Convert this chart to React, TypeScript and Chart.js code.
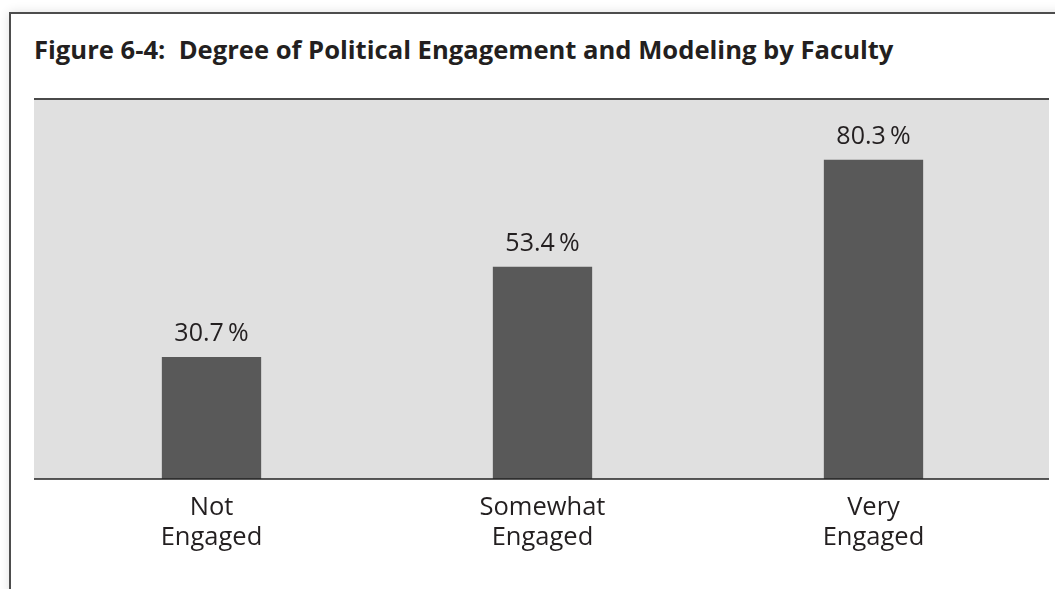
import React, { useEffect, useRef } from "react";
import { Chart, registerables } from "chart.js";

Chart.register(...registerables);

const categories: string[][] = [["Not", "Engaged"], ["Somewhat", "Engaged"], ["Very", "Engaged"]];
const shares: number[] = [30.7, 53.4, 80.3];
const yMax = 95.6;

const W = 1055;
const H = 589;
const FONT = "'Open Sans', 'Noto Sans', sans-serif";

// Grey panel behind the bars, with its rule on top and the baseline at the bottom
const panelPlugin = {
  id: "panel",
  beforeDraw(chart: any) {
    const { ctx, chartArea } = chart;
    const left = chartArea.left - 12;
    const right = chartArea.right + 10;
    ctx.save();
    ctx.fillStyle = "#e0e0e0";
    ctx.fillRect(left, chartArea.top, right - left, chartArea.bottom - chartArea.top);
    ctx.strokeStyle = "#4a4a4a";
    ctx.lineWidth = 2;
    ctx.beginPath();
    ctx.moveTo(left, chartArea.top);
    ctx.lineTo(right, chartArea.top);
    ctx.stroke();
    ctx.restore();
  },
  afterDatasetsDraw(chart: any) {
    const { ctx, chartArea } = chart;
    const left = chartArea.left - 12;
    const right = chartArea.right + 10;
    ctx.save();
    ctx.strokeStyle = "#222";
    ctx.lineWidth = 1.5;
    ctx.beginPath();
    ctx.moveTo(left, chartArea.bottom);
    ctx.lineTo(right, chartArea.bottom);
    ctx.stroke();
    ctx.restore();
  },
};

// Percentage printed above each bar
const valueLabelPlugin = {
  id: "valueLabels",
  afterDatasetsDraw(chart: any) {
    const { ctx } = chart;
    const meta = chart.getDatasetMeta(0);
    const values = chart.data.datasets[0].data as number[];
    ctx.save();
    ctx.font = `25px ${FONT}`;
    ctx.fillStyle = "#231f20";
    ctx.textAlign = "center";
    ctx.textBaseline = "alphabetic";
    meta.data.forEach((bar: any, i: number) => {
      ctx.fillText(`${values[i].toFixed(1)}\u2009%`, bar.x, bar.y - 16);
    });
    ctx.restore();
  },
};

export default function App() {
  const canvasRef = useRef<HTMLCanvasElement | null>(null);

  useEffect(() => {
    document.body.style.margin = "0";
    const canvas = canvasRef.current;
    if (!canvas) return;
    const chart = new Chart(canvas, {
      type: "bar",
      data: {
        labels: categories,
        datasets: [
          {
            data: shares,
            backgroundColor: "#595959",
            borderWidth: 0,
            barPercentage: 0.3,
            categoryPercentage: 1,
          },
        ],
      },
      options: {
        animation: false,
        responsive: false,
        maintainAspectRatio: false,
        layout: { padding: { left: 46, right: 16, top: 99, bottom: 0 } },
        plugins: {
          legend: { display: false },
          tooltip: { enabled: false },
          title: { display: false },
        },
        scales: {
          x: {
            type: "category",
            grid: { display: false, drawTicks: false },
            border: { display: false },
            afterFit: (scale: any) => {
              scale.height = 110;
            },
            ticks: {
              color: "#231f20",
              padding: 14,
              maxRotation: 0,
              autoSkip: false,
              font: { family: FONT, size: 25.5, lineHeight: 1.18 },
            },
          },
          y: {
            display: false,
            min: 0,
            max: yMax,
          },
        },
      },
      plugins: [panelPlugin, valueLabelPlugin],
    });
    return () => chart.destroy();
  }, []);

  return (
    <div
      style={{
        position: "absolute",
        left: 0,
        top: 0,
        width: W,
        height: H,
        overflow: "hidden",
        background: "#fff",
      }}
    >
      <div
        style={{
          position: "absolute",
          left: 9,
          top: 12,
          width: W + 40,
          height: H + 40,
          borderLeft: "2px solid #4d4d4d",
          borderTop: "2px solid #4d4d4d",
          boxShadow: "0 0 10px rgba(0,0,0,0.12)",
          background: "#fff",
        }}
      />
      <div
        style={{
          position: "absolute",
          left: 34,
          top: 35,
          fontFamily: FONT,
          fontWeight: 700,
          fontSize: 25.6,
          lineHeight: "30px",
          color: "#231f20",
          whiteSpace: "pre",
        }}
      >
        {"Figure 6-4:  Degree of Political Engagement and Modeling by Faculty"}
      </div>
      <canvas
        ref={canvasRef}
        width={W}
        height={H}
        style={{ position: "absolute", left: 0, top: 0, width: W, height: H }}
      />
    </div>
  );
}
